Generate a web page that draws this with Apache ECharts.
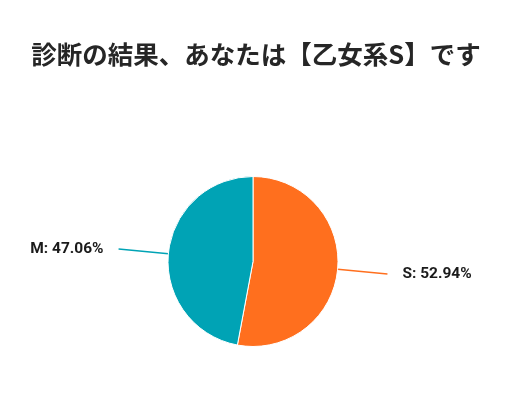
<!DOCTYPE html>
<html><head><meta charset="utf-8">
<script src="https://cdn.jsdelivr.net/npm/echarts@6/dist/echarts.min.js"></script>
<style>html,body{margin:0;padding:0;background:#fff}#c{width:512px;height:399px}</style>
</head><body><div id="c"></div>
<script>
const titleText = '診断の結果、あなたは【乙女系S】です';
const categories = ['S', 'M'];
const values = [52.94, 47.06];
const colors = ['#FF6F1E', '#00A3B5'];

const chart = echarts.init(document.getElementById('c'), null, {renderer: 'canvas'});
chart.setOption({
  animation: false,
  title: {
    text: titleText, left: 'center', top: 37,
    textStyle: {fontFamily: '"Noto Sans CJK JP", sans-serif', fontSize: 25.5, fontWeight: 'bold', color: '#262626'}
  },
  series: [{
    type: 'pie',
    center: [253, 261.5],
    radius: [0, 85],
    startAngle: 90,
    clockwise: true,
    data: categories.map((c, i) => ({name: c, value: values[i], itemStyle: {color: colors[i]}})),
    itemStyle: {borderColor: '#fff', borderWidth: 1},
    label: {
      formatter: p => p.name + ': ' + p.value.toFixed(2) + '%',
      fontFamily: 'Roboto, sans-serif', fontSize: 15.5, fontWeight: 'bold', color: '#1a1a1a',
      distanceToLabelLine: 15, padding: [7, 0, 0, 0]
    },
    labelLine: {show: true, length: 50, length2: 0, smooth: false, lineStyle: {width: 1.5}}
  }]
});
</script></body></html>
